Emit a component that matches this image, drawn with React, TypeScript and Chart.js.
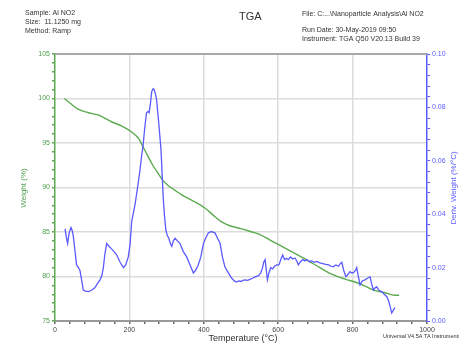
import React, { useEffect, useRef } from "react";
import { Chart, registerables } from "chart.js";

Chart.register(...registerables);

const weightTemps = [25, 40, 62, 90, 116, 153, 180, 207, 225, 237, 250, 263, 277, 290, 305, 322, 340, 357, 380, 403, 425, 449, 470, 493, 515, 538, 551, 578, 605, 640, 677, 712, 747, 780, 812, 835, 855, 885, 914, 925];
const weightVals = [100, 99.5, 98.8, 98.4, 98.15, 97.36, 96.9, 96.2, 95.5, 94.55, 93.5, 92.5, 91.6, 90.8, 90.2, 89.7, 89.2, 88.8, 88.3, 87.7, 86.9, 86.1, 85.7, 85.45, 85.2, 84.9, 84.7, 84.1, 83.5, 82.7, 81.85, 81.0, 80.2, 79.7, 79.3, 78.9, 78.5, 78.2, 77.9, 77.9];

const derivTemps = [27, 31, 34, 38, 43, 46, 49, 54, 58, 63, 67, 72, 76, 82, 90, 98, 107, 114, 121, 126, 130, 134, 139, 145, 152, 159, 166, 175, 184, 190, 197, 202, 206, 210, 215, 222, 228, 233, 237, 241, 246, 250, 253, 257, 260, 264, 267, 270, 273, 279, 285, 288, 291, 294, 298, 302, 306, 310, 314, 318, 323, 329, 336, 345, 354, 363, 372, 378, 385, 392, 399, 405, 412, 420, 430, 437, 444, 450, 457, 466, 475, 482, 488, 494, 500, 505, 511, 518, 524, 531, 538, 547, 553, 558, 561, 565, 568, 571, 575, 580, 585, 590, 596, 602, 607, 612, 617, 622, 627, 633, 639, 645, 650, 654, 660, 666, 672, 677, 684, 690, 697, 704, 712, 720, 728, 736, 742, 748, 755, 762, 767, 771, 776, 782, 788, 793, 798, 803, 808, 811, 815, 820, 826, 833, 840, 847, 851, 856, 861, 865, 871, 878, 885, 892, 897, 901, 905, 909, 914];
const derivVals = [0.0345, 0.031, 0.029, 0.033, 0.035, 0.034, 0.032, 0.026, 0.021, 0.020, 0.019, 0.015, 0.0116, 0.0112, 0.011, 0.0115, 0.0124, 0.014, 0.0154, 0.017, 0.020, 0.025, 0.029, 0.028, 0.027, 0.026, 0.0247, 0.022, 0.020, 0.021, 0.024, 0.029, 0.037, 0.040, 0.0435, 0.050, 0.056, 0.062, 0.066, 0.072, 0.078, 0.0785, 0.078, 0.082, 0.086, 0.087, 0.0865, 0.085, 0.083, 0.074, 0.064, 0.055, 0.046, 0.040, 0.034, 0.032, 0.031, 0.029, 0.028, 0.030, 0.031, 0.030, 0.029, 0.026, 0.024, 0.021, 0.018, 0.019, 0.021, 0.024, 0.029, 0.031, 0.033, 0.0335, 0.033, 0.031, 0.029, 0.024, 0.0202, 0.018, 0.016, 0.015, 0.0146, 0.015, 0.0148, 0.0152, 0.0154, 0.0152, 0.0156, 0.016, 0.0165, 0.017, 0.018, 0.020, 0.022, 0.023, 0.019, 0.0154, 0.018, 0.020, 0.0195, 0.0205, 0.021, 0.021, 0.023, 0.0247, 0.023, 0.0235, 0.023, 0.024, 0.0232, 0.0236, 0.0225, 0.021, 0.0222, 0.023, 0.0225, 0.023, 0.0222, 0.0225, 0.022, 0.0223, 0.0218, 0.0215, 0.0212, 0.021, 0.0205, 0.0203, 0.021, 0.0205, 0.0215, 0.022, 0.019, 0.0166, 0.0175, 0.0185, 0.018, 0.0182, 0.019, 0.020, 0.017, 0.0135, 0.015, 0.0154, 0.016, 0.0166, 0.014, 0.0116, 0.0125, 0.0128, 0.0115, 0.011, 0.010, 0.0091, 0.0075, 0.0054, 0.003, 0.004, 0.005];

const headerLeft = ["Sample: Al NO2", "Size:  11.1250 mg", "Method: Ramp"];
const headerRight = ["File: C:...\\Nanoparticle Analysis\\Al NO2", "Run Date: 30-May-2019 09:50", "Instrument: TGA Q50 V20.13 Build 39"];
const title = "TGA";
const xTitle = "Temperature (°C)";
const yLeftTitle = "Weight (%)";
const yRightTitle = "Deriv. Weight (%/°C)";
const footer = "Universal V4.5A TA Instruments";

const GREEN = "rgb(92,170,80)";
const GREEN_TXT = "rgb(80,160,80)";
const BLUE = "rgb(90,90,255)";
const BLUE_TXT = "rgb(90,90,255)";
const FONT = "'Liberation Sans', Arial, sans-serif";

const textPlugin = {
  id: "texts",
  afterDraw(chart: any) {
    const ctx = chart.ctx;
    const a = chart.chartArea;
    ctx.save();
    ctx.strokeStyle = "#a8a8a8";
    ctx.lineWidth = 2;
    ctx.beginPath();
    ctx.moveTo(a.left, a.top);
    ctx.lineTo(a.right, a.top);
    ctx.stroke();

    ctx.fillStyle = "#333";
    ctx.font = `7px ${FONT}`;
    ctx.textBaseline = "middle";
    ctx.textAlign = "left";
    headerLeft.forEach((t, i) => ctx.fillText(t, 25, 13 + i * 9));
    ctx.fillText(headerRight[0], 302, 14);
    ctx.fillText(headerRight[1], 302, 30);
    ctx.fillText(headerRight[2], 302, 39);
    ctx.font = `11px ${FONT}`;
    ctx.fillText(title, 239, 17);

    ctx.font = `9px ${FONT}`;
    ctx.textAlign = "center";
    ctx.fillText(xTitle, 243, 339);

    ctx.font = `5.5px ${FONT}`;
    ctx.textAlign = "left";
    ctx.fillText(footer, 383, 336);

    ctx.font = `8px ${FONT}`;
    ctx.textAlign = "center";
    ctx.fillStyle = GREEN_TXT;
    ctx.save();
    ctx.translate(24, 188);
    ctx.rotate(-Math.PI / 2);
    ctx.fillText(yLeftTitle, 0, 0);
    ctx.restore();

    ctx.fillStyle = BLUE_TXT;
    ctx.save();
    ctx.translate(454, 188);
    ctx.rotate(-Math.PI / 2);
    ctx.fillText(yRightTitle, 0, 0);
    ctx.restore();
    ctx.restore();
  },
};

export default function App() {
  const ref = useRef<HTMLCanvasElement>(null);
  useEffect(() => {
    if (!ref.current) return;
    const weightData = weightTemps.map((t, i) => ({ x: t, y: weightVals[i] }));
    const derivData = derivTemps.map((t, i) => ({ x: t, y: derivVals[i] }));
    const chart = new Chart(ref.current, {
      type: "scatter",
      data: {
        datasets: [
          {
            data: derivData,
            yAxisID: "y1",
            showLine: true,
            borderColor: BLUE,
            borderWidth: 1.3,
            pointRadius: 0,
            tension: 0,
          },
          {
            data: weightData,
            yAxisID: "y",
            showLine: true,
            borderColor: GREEN,
            borderWidth: 1.4,
            pointRadius: 0,
            cubicInterpolationMode: "monotone",
          },
        ],
      },
      options: {
        responsive: false,
        animation: false,
        layout: { padding: { top: 54, left: 0, right: 0, bottom: 0 } },
        plugins: { legend: { display: false }, tooltip: { enabled: false } },
        scales: {
          x: {
            type: "linear",
            min: 0,
            max: 1000,
            afterFit: (s: any) => { s.height = 24; },
            border: { color: "#999", width: 2 },
            grid: {
              color: (c: any) => {
                const v = c.tick?.value;
                return v % 200 === 0 && v !== 0 && v !== 1000 ? "#dcdcdc" : "rgba(0,0,0,0)";
              },
              tickColor: "#666",
              tickLength: 3,
              lineWidth: 1.5,
            },
            ticks: {
              stepSize: 40,
              autoSkip: false,
              maxRotation: 0,
              padding: 2,
              color: "#444",
              font: { family: FONT, size: 7 },
              callback: (v: any) => (Number(v) % 200 === 0 ? String(v) : ""),
            },
          },
          y: {
            type: "linear",
            position: "left",
            min: 75,
            max: 105,
            afterFit: (s: any) => { s.width = 55; },
            border: { color: GREEN, width: 1.5 },
            grid: {
              color: (c: any) => {
                const v = c.tick?.value;
                return v % 5 === 0 && v !== 75 && v !== 105 ? "#dcdcdc" : "rgba(0,0,0,0)";
              },
              tickColor: GREEN,
              tickLength: 3,
              lineWidth: 1.5,
            },
            ticks: {
              stepSize: 1,
              autoSkip: false,
              padding: 2,
              color: GREEN_TXT,
              font: { family: FONT, size: 7 },
              callback: (v: any) => (Number(v) % 5 === 0 ? String(v) : ""),
            },
          },
          y1: {
            type: "linear",
            position: "right",
            min: 0,
            max: 0.1,
            afterFit: (s: any) => { s.width = 32; },
            border: { color: BLUE, width: 1.5 },
            grid: {
              drawOnChartArea: false,
              tickColor: BLUE,
              tickLength: 3,
            },
            ticks: {
              stepSize: 0.004,
              autoSkip: false,
              padding: 2,
              color: BLUE_TXT,
              font: { family: FONT, size: 7 },
              callback: (v: any) => {
                const r = Math.round(Number(v) * 1000);
                return r % 20 === 0 ? (r / 1000).toFixed(2) : "";
              },
            },
          },
        },
      },
      plugins: [textPlugin],
    } as any);
    return () => chart.destroy();
  }, []);
  return (
    <div style={{ position: "absolute", left: 0, top: 0, width: 459, height: 345, background: "#fff" }}>
      <canvas ref={ref} width={459} height={345} />
    </div>
  );
}
